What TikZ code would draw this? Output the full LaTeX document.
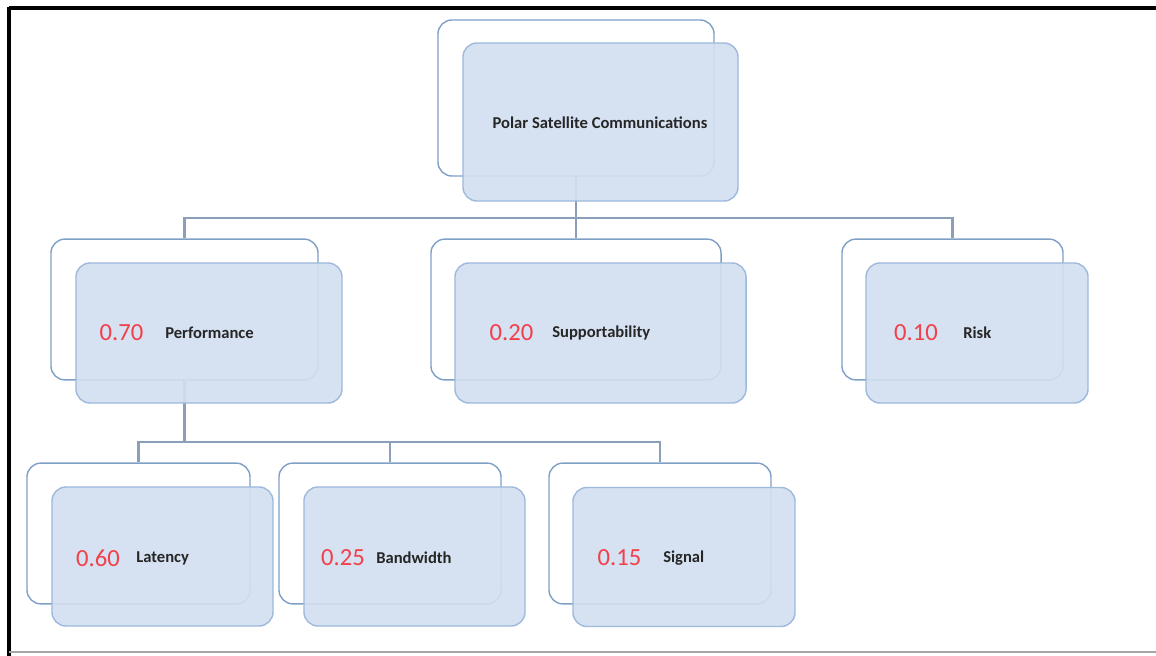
\documentclass[tikz,border=0pt]{standalone}
\usepackage{fontspec}
\setmainfont{Carlito}
\usepackage{xcolor}
\usepackage{tikz}
\definecolor{backline}{HTML}{7F9FC6}
\definecolor{frontline}{HTML}{9DB9DC}
\definecolor{frontfill}{HTML}{D3DFF0}
\definecolor{busline}{HTML}{8B9FB8}
\definecolor{weightred}{HTML}{F2404A}

\begin{document}
\begin{tikzpicture}[x=0.025cm,y=-0.025cm]
    \tikzset{
        backbox/.style={draw=backline, line width=1pt, fill=white, rounded corners=0.35cm, inner sep=0pt},
        frontbox/.style={draw=frontline, line width=1pt, fill=frontfill, fill opacity=0.92, rounded corners=0.35cm, inner sep=0pt},
        bus/.style={draw=busline, line width=1.8pt},
        weight/.style={text=weightred, font=\fontsize{17.5}{20}\selectfont, inner sep=0pt},
        crit/.style={text=black!85, font=\fontsize{11.8}{14}\selectfont\bfseries, inner sep=0pt, anchor=west}
    }
    \useasboundingbox (0,0) rectangle (1156,656);
    % frame of the page
    \draw[line width=2.8pt, black] (9,8) -- (1156,8);
    \draw[line width=2.8pt, black] (9,6.6) -- (9,656);
    \draw[line width=1pt, black!35] (9,652) -- (1156,652);

    % back cards
    \node[backbox, minimum width=6.9cm, minimum height=3.9cm] (goalB) at (576,98) {};
    \node[backbox, minimum width=6.675cm, minimum height=3.52cm] (perfB) at (184.5,309.5) {};
    \node[backbox, minimum width=7.25cm, minimum height=3.52cm] (suppB) at (576,309.5) {};
    \node[backbox, minimum width=5.525cm, minimum height=3.52cm] (riskB) at (952.5,309.5) {};
    \node[backbox, minimum width=5.575cm, minimum height=3.52cm] (latB) at (138.5,533.5) {};
    \node[backbox, minimum width=5.55cm, minimum height=3.52cm] (bwB) at (390,533.5) {};
    \node[backbox, minimum width=5.55cm, minimum height=3.52cm] (sigB) at (660,533.5) {};

    % tree lines
    \coordinate (busA) at (576,218);
    \coordinate (busB) at (184.5,442);
    \draw[bus] (goalB.south) -- (busA);
    \draw[bus] (perfB.north) |- (busA);
    \draw[bus] (suppB.north) -- (busA);
    \draw[bus] (riskB.north) |- (busA);
    \draw[bus] (perfB.south) -- (busB);
    \draw[bus] (latB.north) |- (busB);
    \draw[bus] (bwB.north) |- (busB);
    \draw[bus] (sigB.north) |- (busB);

    % front cards
    \node[frontbox, minimum width=6.875cm, minimum height=3.95cm] (goal) at (600.5,122) {};
    \node[frontbox, minimum width=6.65cm, minimum height=3.5cm] (perf) at (209,333) {};
    \node[frontbox, minimum width=7.275cm, minimum height=3.5cm] (supp) at (600.5,333) {};
    \node[frontbox, minimum width=5.55cm, minimum height=3.5cm] (risk) at (977,333) {};
    \node[frontbox, minimum width=5.525cm, minimum height=3.475cm] (lat) at (162.5,556.5) {};
    \node[frontbox, minimum width=5.525cm, minimum height=3.475cm] (bw) at (414.5,556.5) {};
    \node[frontbox, minimum width=5.55cm, minimum height=3.475cm] (sig) at (684,557) {};

    % texts
    \node[crit, anchor=center] (goalT) at (600,123) {Polar Satellite Communications};
    \node[weight] (perfW) at (121.5,333) {0.70};
    \node[crit] (perfT) at (165,333) {Performance};
    \node[weight] (suppW) at (511.5,333) {0.20};
    \node[crit] (suppT) at (552,333) {Supportability};
    \node[weight] (riskW) at (916,333) {0.10};
    \node[crit] (riskT) at (963,333) {Risk};
    \node[weight] (latW) at (98,558) {0.60};
    \node[crit] (latT) at (136,558) {Latency};
    \node[weight] (bwW) at (343,558) {0.25};
    \node[crit] (bwT) at (376,558) {Bandwidth};
    \node[weight] (sigW) at (619.5,558) {0.15};
    \node[crit] (sigT) at (663,558) {Signal};
\end{tikzpicture}
\end{document}
